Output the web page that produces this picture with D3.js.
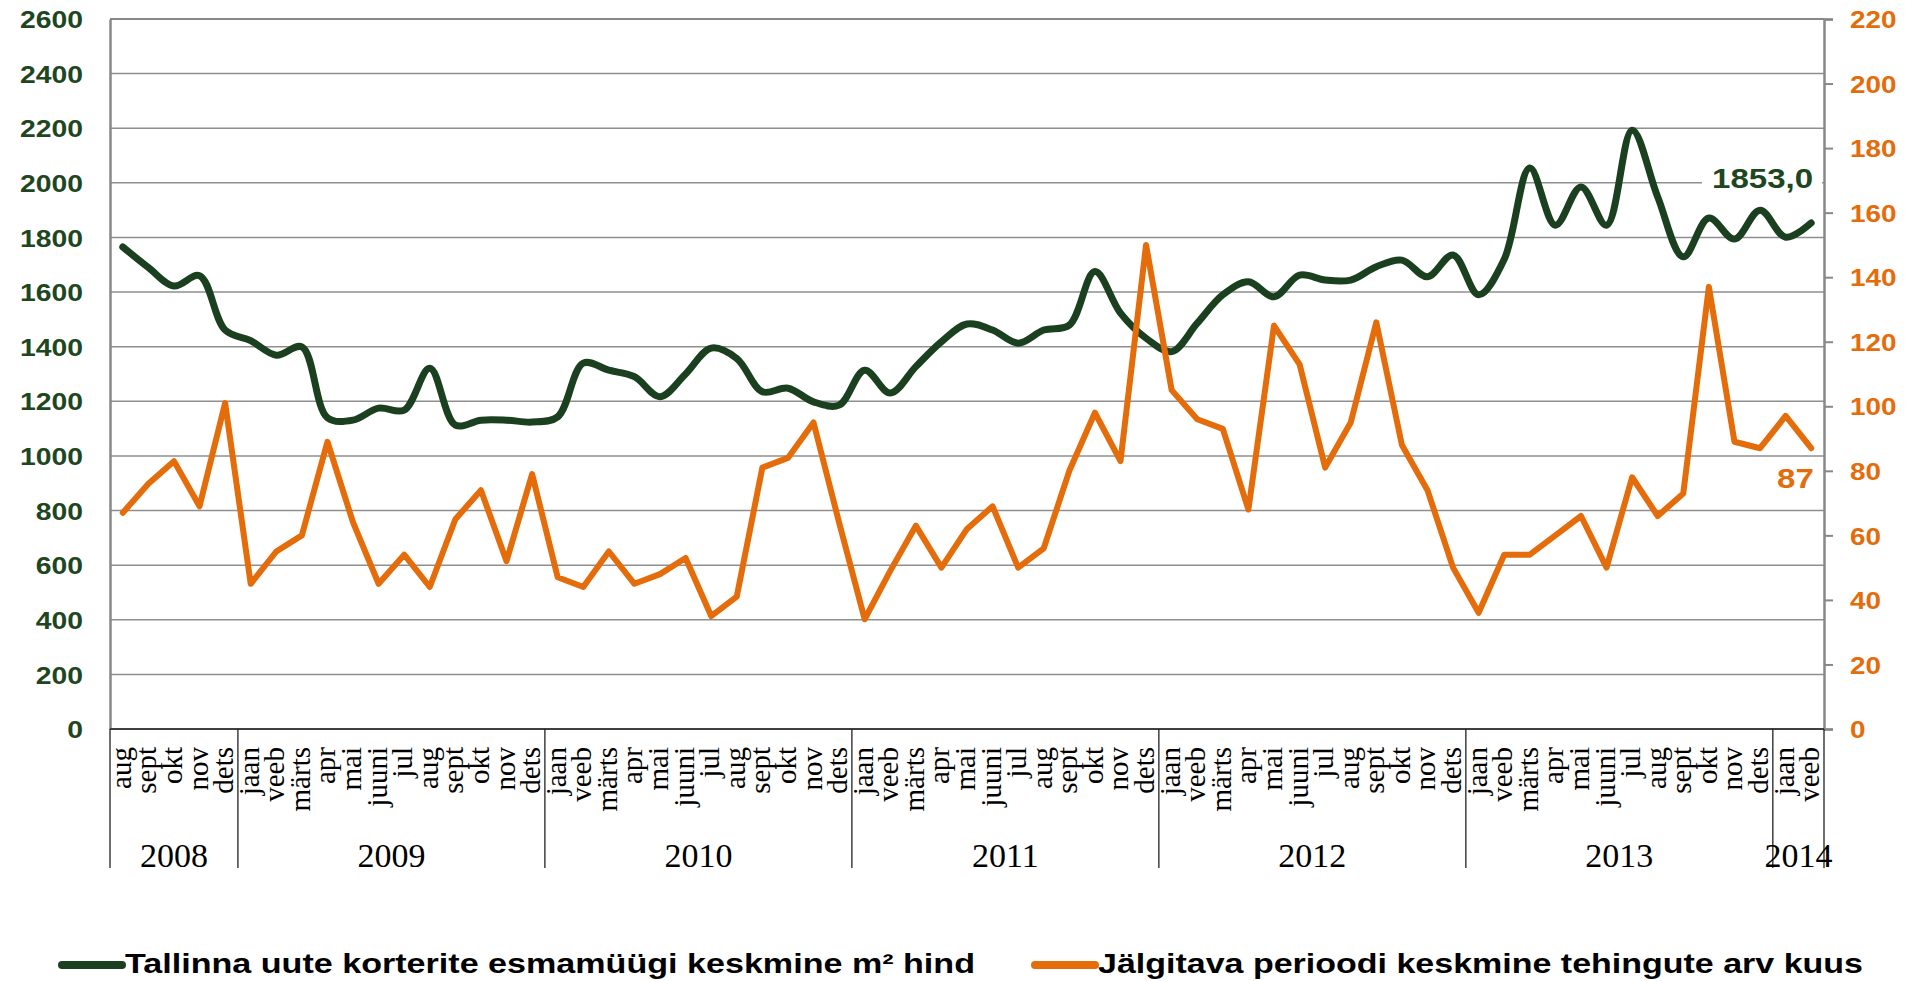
<!DOCTYPE html>
<html><head><meta charset="utf-8">
<script src="https://cdn.jsdelivr.net/npm/d3@7"></script>
<style>
html,body{margin:0;padding:0;background:#fff;}
svg{display:block;}
</style></head>
<body>
<svg id="chart" width="1907" height="981"></svg>
<script>
// ---------- DATA ----------
const months = [
  "aug","sept","okt","nov","dets",
  "jaan","veeb","märts","apr","mai","juuni","jul","aug","sept","okt","nov","dets",
  "jaan","veeb","märts","apr","mai","juuni","jul","aug","sept","okt","nov","dets",
  "jaan","veeb","märts","apr","mai","juuni","jul","aug","sept","okt","nov","dets",
  "jaan","veeb","märts","apr","mai","juuni","jul","aug","sept","okt","nov","dets",
  "jaan","veeb","märts","apr","mai","juuni","jul","aug","sept","okt","nov","dets",
  "jaan","veeb"
];
const years = ["2008","2009","2010","2011","2012","2013","2014"];
const yearMonthCounts = [5,12,12,12,12,12,2];
const price = [
  1765,1690,1622,1660,1461,
  1422,1369,1399,1140,1131,1175,1168,1321,1113,1131,1131,1124,
  1143,1340,1314,1290,1217,1300,1395,1357,1235,1248,1198,1186,
  1314,1230,1327,1418,1483,1461,1413,1461,1479,1675,1523,1431,
  1382,1486,1590,1638,1583,1662,1644,1644,1693,1717,1656,1736,
  1590,1720,2054,1845,1985,1845,2193,1948,1729,1871,1794,1900,
  1801,1853
];
const deals = [
  67,76,83,69,101,
  45,55,60,89,64,45,54,44,65,74,52,79,
  47,44,55,45,48,53,35,41,81,84,95,64,
  34,49,63,50,62,69,50,56,80,98,83,150,
  105,96,93,68,125,113,81,95,126,88,74,50,
  36,54,54,60,66,50,78,66,73,137,89,87,
  97,87
];
const leftTicks = [0,200,400,600,800,1000,1200,1400,1600,1800,2000,2200,2400,2600];
const rightTicks = [0,20,40,60,80,100,120,140,160,180,200,220];
const seriesNames = ["Tallinna uute korterite esmamüügi keskmine m² hind",
                     "Jälgitava perioodi keskmine tehingute arv kuus"];
const lastPriceLabel = "1853,0";
const lastDealsLabel = "87";

// ---------- LAYOUT ----------
const GREEN = "#1B401F", GREEN_TXT = "#1E4620", ORANGE = "#E46C0A";
const L = 110, R = 1824, T = 19, B = 729;
const sans = "'Liberation Sans', Arial, sans-serif";
const serif = "'Liberation Serif', 'Times New Roman', serif";

const svg = d3.select("#chart");
const idx = d3.range(months.length);
const x = d3.scaleBand().domain(idx).range([L, R]).padding(0);
const cx = i => x(i) + x.bandwidth() / 2;
const yL = d3.scaleLinear().domain([0, 2600]).range([B, T]);
const yR = d3.scaleLinear().domain([0, 220]).range([B, T]);

function stretch(sel, k) {
  sel.each(function () {
    const w = this.getComputedTextLength();
    this.setAttribute("textLength", w * k);
    this.setAttribute("lengthAdjust", "spacingAndGlyphs");
  });
}

// gridlines
svg.append("g").selectAll("line").data(leftTicks).join("line")
  .attr("x1", L).attr("x2", R)
  .attr("y1", d => yL(d)).attr("y2", d => yL(d))
  .attr("stroke", d => d === 2600 ? "#888" : "#8f8f8f")
  .attr("stroke-width", d => d === 2600 ? 2 : 1.5);

// left axis
const gL = svg.append("g").attr("transform", `translate(${L},0)`)
  .call(d3.axisLeft(yL).tickValues(leftTicks).tickSize(0).tickPadding(27).tickFormat(d3.format("d")));
gL.select(".domain").attr("stroke", "#888").attr("stroke-width", 2.5);
gL.selectAll("text").attr("font-family", sans).attr("font-weight", "bold")
  .attr("font-size", 24).attr("fill", GREEN_TXT).attr("dy", "0.36em");
stretch(gL.selectAll("text"), 1.18);

// right axis
const gR = svg.append("g").attr("transform", `translate(${R},0)`)
  .call(d3.axisRight(yR).tickValues(rightTicks).tickSize(9).tickPadding(17).tickFormat(d3.format("d")));
gR.select(".domain").attr("stroke", "#888").attr("stroke-width", 2.5);
gR.selectAll(".tick line").attr("stroke", "#888").attr("stroke-width", 2);
gR.selectAll("text").attr("font-family", sans).attr("font-weight", "bold")
  .attr("font-size", 24).attr("fill", ORANGE).attr("dy", "0.36em");
stretch(gR.selectAll("text"), 1.16);

// bottom axis line
svg.append("line").attr("x1", L).attr("x2", R).attr("y1", B).attr("y2", B)
  .attr("stroke", "#404040").attr("stroke-width", 2);

// year separators
let starts = [0];
yearMonthCounts.forEach((c, k) => starts.push(starts[k] + c));
svg.append("g").selectAll("line").data(starts).join("line")
  .attr("x1", d => d < months.length ? x(d) : R).attr("x2", d => d < months.length ? x(d) : R)
  .attr("y1", B).attr("y2", 868)
  .attr("stroke", "#222").attr("stroke-width", 1.3);

// month labels
svg.append("g").selectAll("text").data(idx).join("text")
  .attr("transform", i => `translate(${cx(i) + 8},747) rotate(-90)`)
  .attr("text-anchor", "end")
  .attr("font-family", serif).attr("font-size", 29).attr("fill", "#000")
  .text(i => months[i]);

// year labels
svg.append("g").selectAll("text").data(years).join("text")
  .attr("x", (d, k) => {
    const a = x(starts[k]);
    const b = starts[k + 1] < months.length ? x(starts[k + 1]) : R;
    return (a + b) / 2;
  })
  .attr("y", 867).attr("text-anchor", "middle")
  .attr("font-family", serif).attr("font-size", 34).attr("fill", "#000")
  .text(d => d);

// lines
const linePrice = d3.line().x((d, i) => cx(i)).y(d => yL(d)).curve(d3.curveCatmullRom.alpha(0.5));
const lineDeals = d3.line().x((d, i) => cx(i)).y(d => yR(d));

svg.append("path").datum(price).attr("d", linePrice)
  .attr("fill", "none").attr("stroke", GREEN).attr("stroke-width", 7)
  .attr("stroke-linejoin", "round").attr("stroke-linecap", "round");
svg.append("path").datum(deals).attr("d", lineDeals)
  .attr("fill", "none").attr("stroke", ORANGE).attr("stroke-width", 6)
  .attr("stroke-linejoin", "round").attr("stroke-linecap", "round");

// end labels
const nLast = months.length - 1;
svg.append("rect").attr("x", 1702).attr("y", 163).attr("width", 120).attr("height", 34).attr("fill", "#fff");
const pl = svg.append("text").attr("x", 1712).attr("y", 188)
  .attr("font-family", sans).attr("font-weight", "bold").attr("font-size", 28)
  .attr("fill", GREEN_TXT).text(lastPriceLabel);
stretch(pl, 1.18);
const dl = svg.append("text").attr("x", 1777).attr("y", 488)
  .attr("font-family", sans).attr("font-weight", "bold").attr("font-size", 28)
  .attr("fill", ORANGE).text(lastDealsLabel);
stretch(dl, 1.18);

// legend
const legend = [
  {name: seriesNames[0], color: GREEN, x0: 62, x1: 122, tx: 125, tw: 850},
  {name: seriesNames[1], color: ORANGE, x0: 1035, x1: 1095, tx: 1098, tw: 765}
];
const lg = svg.append("g");
lg.selectAll("line").data(legend).join("line")
  .attr("x1", d => d.x0).attr("x2", d => d.x1).attr("y1", 965).attr("y2", 965)
  .attr("stroke", d => d.color).attr("stroke-width", 8).attr("stroke-linecap", "round");
lg.selectAll("text").data(legend).join("text")
  .attr("x", d => d.tx).attr("y", 973)
  .attr("font-family", sans).attr("font-weight", "bold").attr("font-size", 27).attr("fill", "#000")
  .attr("textLength", d => d.tw).attr("lengthAdjust", "spacingAndGlyphs")
  .text(d => d.name);
</script>
</body></html>
